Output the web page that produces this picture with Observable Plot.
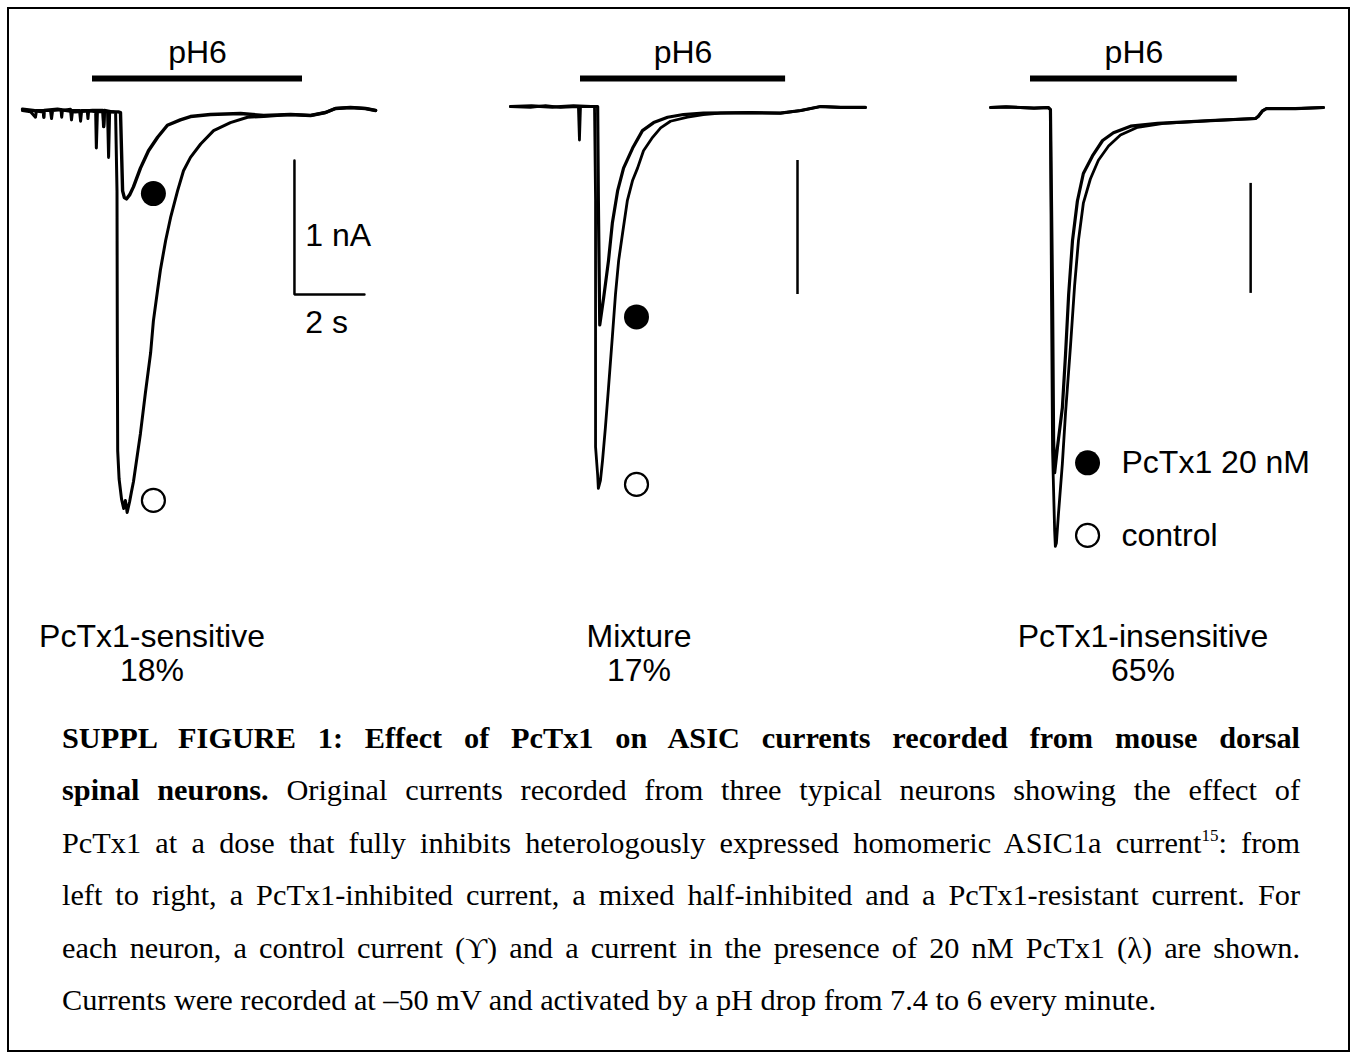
<!DOCTYPE html>
<html>
<head>
<meta charset="utf-8">
<script src="https://cdn.jsdelivr.net/npm/d3@7"></script>
<script src="https://cdn.jsdelivr.net/npm/@observablehq/plot@0.6"></script>
<style>
  body { margin: 0; background: #fff; }
  #fig { position: relative; width: 1355px; height: 1057px; background: #fff; overflow: hidden; }
  #frame { position: absolute; left: 7px; top: 7px; width: 1343px; height: 1045px; border: 2px solid #000; box-sizing: border-box; }
  .panel { position: absolute; }
  .panel svg { display: block; overflow: visible; }
  .lbl { position: absolute; width: 400px; font-family: "Liberation Sans", Arial, sans-serif; font-size: 32px; line-height: 34px; text-align: center; color: #000; }
  #caption { position: absolute; left: 62px; top: 712px; width: 1238px; font-family: "Liberation Serif", "Times New Roman", serif; font-size: 30.3px; line-height: 52.4px; color: #000; }
  #caption .ln { text-align: justify; text-align-last: justify; white-space: nowrap; }
  #caption .ln.last { text-align-last: left; }
  #caption sup { font-size: 17px; line-height: 0; vertical-align: 12px; }
</style>
</head>
<body>
<div id="fig">
  <div id="frame"></div>
</div>
<script>
// ---------------- data (time in s, current in nA) ----------------
const panelNames = ["PcTx1-sensitive", "Mixture", "PcTx1-insensitive"];
const panelShares = ["18%", "17%", "65%"];
const stimulusLabel = "pH6";
const pHStart = [2.0, 2.0, 2.0];
const pHEnd = [8.0, 7.86, 7.91];
const legendLabels = ["PcTx1 20 nM", "control"];
const scaleBarNA = 1;   // vertical scale bar, nA
const scaleBarS = 2;    // horizontal scale bar, s
const scaleLabels = ["1 nA", "2 s"];

// Panel 1 (PcTx1-sensitive)
const p1ControlT = [0, 0.23, 0.37, 0.40, 0.80, 0.83, 0.86, 1.10, 1.12, 1.14, 1.37, 1.40, 1.43, 1.63, 1.66, 1.69, 1.85, 1.87, 1.89, 2.09, 2.11, 2.14, 2.30, 2.32, 2.34, 2.43, 2.46, 2.49, 2.60, 2.66, 2.70, 2.71, 2.72, 2.76, 2.83, 2.89, 2.94, 2.99, 3.06, 3.11, 3.17, 3.37, 3.51, 3.66, 3.74, 3.86, 3.94, 4.09, 4.23, 4.43, 4.60, 4.80, 5.09, 5.46, 5.94, 6.43, 6.89, 7.66, 8.23, 8.66, 8.94, 9.37, 9.80, 10.09];
const p1ControlI = [0, -0.01, -0.05, 0, 0, -0.06, 0, 0.005, -0.05, 0, 0.01, -0.07, 0, 0, -0.08, 0, 0, -0.06, 0, -0.01, -0.28, -0.01, -0.01, -0.11, -0.01, -0.01, -0.35, -0.01, -0.01, -0.015, -0.60, -1.84, -2.54, -2.75, -2.90, -2.97, -2.91, -3.0, -2.92, -2.85, -2.77, -2.41, -2.11, -1.81, -1.57, -1.34, -1.19, -0.97, -0.80, -0.60, -0.45, -0.35, -0.25, -0.15, -0.09, -0.05, -0.045, -0.03, -0.037, -0.015, 0.015, 0.022, 0.015, 0];
const p1ToxinT = [0, 0.3, 0.6, 0.61, 0.62, 1.0, 1.5, 2.0, 2.3, 2.32, 2.34, 2.55, 2.74, 2.80, 2.86, 2.91, 2.97, 3.06, 3.17, 3.37, 3.60, 3.86, 4.14, 4.51, 4.80, 5.37, 6.23, 6.89, 7.66, 8.23, 8.66, 8.94, 9.37, 9.80, 10.09];
const p1ToxinI = [0.01, 0, -0.01, -0.05, 0, 0.01, -0.01, 0, 0, -0.12, 0, -0.01, -0.01, -0.015, -0.60, -0.65, -0.66, -0.63, -0.57, -0.43, -0.30, -0.20, -0.11, -0.07, -0.045, -0.03, -0.022, -0.037, -0.03, -0.037, -0.015, 0.015, 0.022, 0.015, 0];

// Panel 2 (Mixture)
const p2ControlT = [0, 0.57, 1.0, 1.43, 1.94, 1.97, 2.0, 2.40, 2.43, 2.43, 2.49, 2.51, 2.57, 2.63, 2.71, 2.80, 2.91, 3.0, 3.09, 3.2, 3.34, 3.49, 3.63, 3.80, 4.06, 4.29, 4.57, 5.06, 5.51, 6.0, 6.86, 7.71, 8.29, 8.86, 9.43, 10.14];
const p2ControlI = [0, -0.007, 0.007, -0.007, 0, -0.25, 0, 0, -0.70, -2.54, -2.75, -2.85, -2.79, -2.64, -2.40, -2.10, -1.72, -1.40, -1.15, -0.95, -0.70, -0.55, -0.46, -0.33, -0.23, -0.16, -0.11, -0.08, -0.06, -0.05, -0.045, -0.05, -0.03, 0, -0.007, -0.007];
const p2ToxinT = [0, 0.6, 1.2, 1.8, 2.3, 2.49, 2.51, 2.55, 2.66, 2.80, 2.91, 3.06, 3.23, 3.49, 3.77, 4.09, 4.49, 4.94, 5.51, 6.86, 7.71, 8.29, 8.86, 9.43, 10.14];
const p2ToxinI = [0, 0.005, -0.005, 0.005, 0, 0, -0.70, -1.63, -1.43, -1.15, -0.87, -0.63, -0.46, -0.31, -0.18, -0.12, -0.08, -0.06, -0.05, -0.045, -0.05, -0.03, 0, -0.007, -0.007];

// Panel 3 (PcTx1-insensitive)
const p3ControlT = [0.86, 1.3, 1.71, 2.1, 2.51, 2.57, 2.60, 2.63, 2.69, 2.71, 2.74, 2.80, 2.91, 3.0, 3.14, 3.26, 3.37, 3.51, 3.71, 3.94, 4.23, 4.57, 5.06, 5.8, 7.14, 8.43, 8.51, 8.63, 8.74, 9.57, 10.37];
const p3ControlI = [0, 0.005, 0, -0.005, 0, -0.02, -1.75, -3.12, -3.85, -3.99, -3.96, -3.69, -3.24, -2.78, -2.18, -1.62, -1.21, -0.87, -0.65, -0.48, -0.35, -0.25, -0.18, -0.145, -0.12, -0.10, -0.08, -0.03, -0.01, -0.01, 0];
const p3ToxinT = [0.86, 1.3, 1.71, 2.1, 2.51, 2.57, 2.63, 2.66, 2.69, 2.77, 2.91, 3.0, 3.09, 3.2, 3.34, 3.51, 3.77, 4.06, 4.37, 4.86, 5.63, 7.14, 8.43, 8.51, 8.63, 8.74, 9.57, 10.37];
const p3ToxinI = [0, 0.005, 0, -0.005, 0, -0.02, -1.75, -3.03, -3.32, -3.09, -2.73, -2.25, -1.70, -1.21, -0.85, -0.60, -0.44, -0.30, -0.23, -0.17, -0.145, -0.12, -0.10, -0.08, -0.03, -0.01, -0.01, 0];

// ---------------- layout (pixels / annotation placement) ----------------
// x0,y0: page position of t = 0 s, I = 0 nA; sx px per s; sy px per nA
const layout = [
  {left: 10, right: 395, top: 15, bottom: 570, x0: 22, y0: 110, sx: 35, sy: 134, lw: 3.4,
   barY: 78, textY: 52, filled: [3.74, -0.62], open: [3.74, -2.91],
   scaleX: 7.77, scaleTop: -0.373, showLabels: true, horiz: true},
  {left: 495, right: 890, top: 15, bottom: 570, x0: 510, y0: 106, sx: 35, sy: 134, lw: 3.2,
   barY: 78, textY: 52, filled: [3.6, -1.57], open: [3.6, -2.82],
   scaleX: 8.2, scaleTop: -0.403, showLabels: false, horiz: false},
  {left: 975, right: 1345, top: 15, bottom: 570, x0: 960, y0: 107, sx: 35, sy: 110, lw: 3.2,
   barY: 78, textY: 52, filled: [3.63, -3.23], open: [3.63, -3.89],
   scaleX: 8.29, scaleTop: -0.69, showLabels: false, horiz: false, legendT: 4.6}
];
const traces = [
  [[p1ControlT, p1ControlI], [p1ToxinT, p1ToxinI]],
  [[p2ControlT, p2ControlI], [p2ToxinT, p2ToxinI]],
  [[p3ControlT, p3ControlI], [p3ToxinT, p3ToxinI]]
];
const labelCenters = [152, 639, 1143];

const rows = (T, I) => T.map((t, i) => ({t, I: I[i]}));
const font = "'Liberation Sans', Arial, sans-serif";
const fs = 32;
const fig = document.getElementById("fig");

layout.forEach((c, k) => {
  const w = c.right - c.left, h = c.bottom - c.top;
  const pxToI = py => (c.y0 - py) / c.sy;
  const marks = [];
  // stimulus bar + label
  marks.push(Plot.ruleY([{y: pxToI(c.barY), x1: pHStart[k], x2: pHEnd[k]}],
    {y: "y", x1: "x1", x2: "x2", stroke: "black", strokeWidth: 6}));
  marks.push(Plot.text([{t: (pHStart[k] + pHEnd[k]) / 2, I: pxToI(c.textY), s: stimulusLabel}],
    {x: "t", y: "I", text: "s", fontSize: fs, fill: "black", textAnchor: "middle"}));
  // current traces
  traces[k].forEach(([T, I], j) => {
    marks.push(Plot.line(rows(T, I), {x: "t", y: "I", stroke: "black", strokeWidth: j === 0 ? c.lw - 0.4 : c.lw,
      strokeLinejoin: "round", strokeLinecap: "round"}));
  });
  // markers
  marks.push(Plot.dot([{t: c.filled[0], I: c.filled[1]}], {x: "t", y: "I", r: 12.5, fill: "black", stroke: "none"}));
  marks.push(Plot.dot([{t: c.open[0], I: c.open[1]}], {x: "t", y: "I", r: 11.5, fill: "white", stroke: "black", strokeWidth: 2.2}));
  // scale bar
  if (c.horiz) {
    marks.push(Plot.line([
      {t: c.scaleX, I: c.scaleTop},
      {t: c.scaleX, I: c.scaleTop - scaleBarNA},
      {t: c.scaleX + scaleBarS, I: c.scaleTop - scaleBarNA}
    ], {x: "t", y: "I", stroke: "black", strokeWidth: 2.5, strokeLinejoin: "miter"}));
  } else {
    marks.push(Plot.ruleX([{t: c.scaleX, y1: c.scaleTop, y2: c.scaleTop - scaleBarNA}],
      {x: "t", y1: "y1", y2: "y2", stroke: "black", strokeWidth: 2.5}));
  }
  if (c.showLabels) {
    marks.push(Plot.text([
      {t: c.scaleX + 0.31, I: c.scaleTop - scaleBarNA * 0.56, s: scaleLabels[0]},
      {t: c.scaleX + 0.31, I: c.scaleTop - scaleBarNA - 0.21, s: scaleLabels[1]}
    ], {x: "t", y: "I", text: "s", fontSize: fs, fill: "black", textAnchor: "start"}));
  }
  if (c.legendT !== undefined) {
    marks.push(Plot.text([
      {t: c.legendT, I: c.filled[1], s: legendLabels[0]},
      {t: c.legendT, I: c.open[1], s: legendLabels[1]}
    ], {x: "t", y: "I", text: "s", fontSize: fs, fill: "black", textAnchor: "start"}));
  }
  const svg = Plot.plot({
    width: w, height: h, margin: 0,
    x: {domain: [(c.left - c.x0) / c.sx, (c.right - c.x0) / c.sx], axis: null},
    y: {domain: [(c.y0 - c.bottom) / c.sy, (c.y0 - c.top) / c.sy], axis: null},
    style: {fontFamily: font, background: "transparent", overflow: "visible", maxWidth: "none"},
    marks
  });
  const div = document.createElement("div");
  div.className = "panel";
  div.style.left = c.left + "px";
  div.style.top = c.top + "px";
  div.style.width = w + "px";
  div.style.height = h + "px";
  div.appendChild(svg);
  fig.appendChild(div);

  const lbl = document.createElement("div");
  lbl.className = "lbl";
  lbl.style.left = (labelCenters[k] - 200) + "px";
  lbl.style.top = "619px";
  lbl.innerHTML = panelNames[k] + "<br>" + panelShares[k];
  fig.appendChild(lbl);
});

// caption
const cap = document.createElement("div");
cap.id = "caption";
cap.innerHTML = [
  '<div class="ln"><b>SUPPL FIGURE 1: Effect of PcTx1 on ASIC currents recorded from mouse dorsal</b></div>',
  '<div class="ln"><b>spinal neurons.</b> Original currents recorded from three typical neurons showing the effect of</div>',
  '<div class="ln">PcTx1 at a dose that fully inhibits heterologously expressed homomeric ASIC1a current<sup>15</sup>: from</div>',
  '<div class="ln">left to right, a PcTx1-inhibited current, a mixed half-inhibited and a PcTx1-resistant current. For</div>',
  '<div class="ln">each neuron, a control current (\u03D2) and a current in the presence of 20 nM PcTx1 (\u03BB) are shown.</div>',
  '<div class="ln last">Currents were recorded at \u201350 mV and activated by a pH drop from 7.4 to 6 every minute.</div>'
].join("");
fig.appendChild(cap);
</script>
</body>
</html>
